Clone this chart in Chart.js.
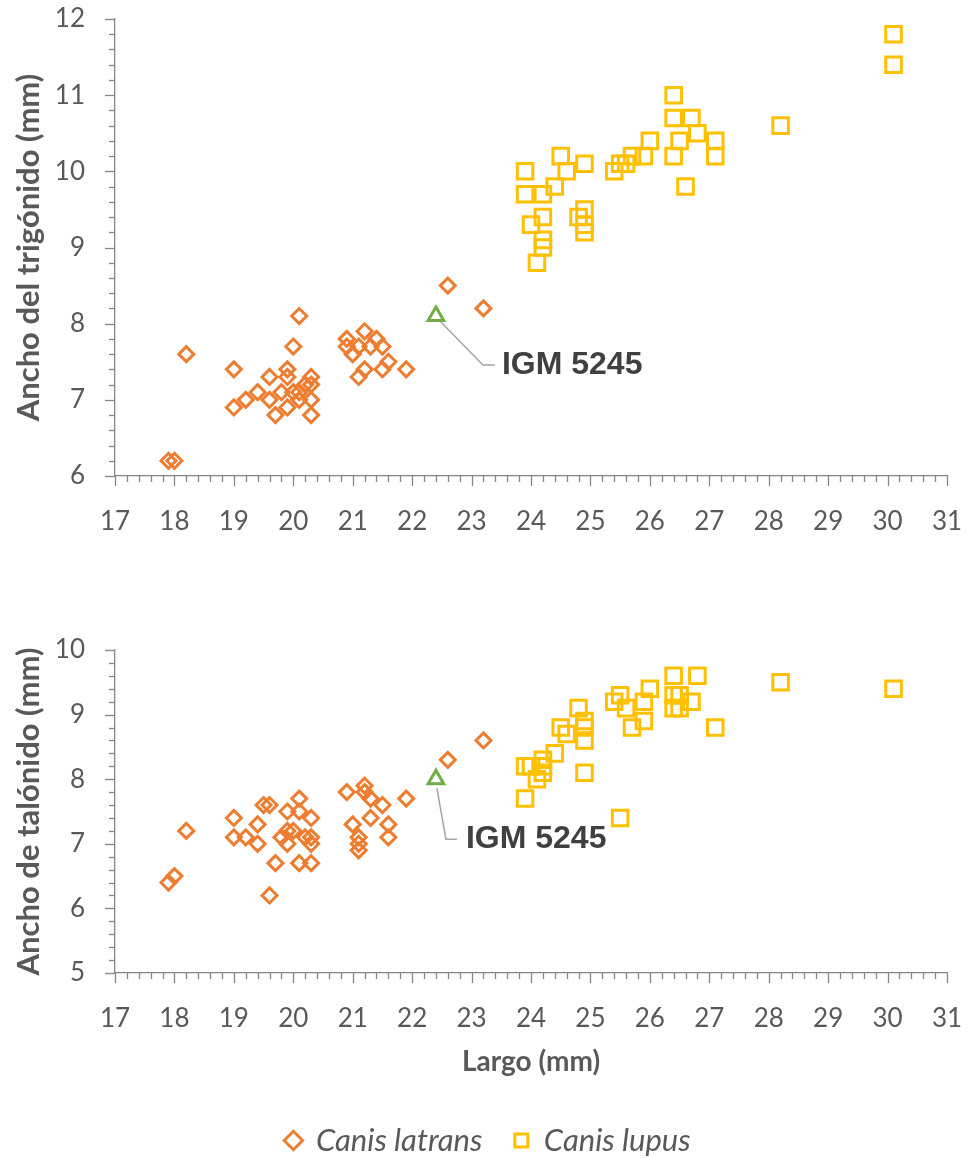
<!DOCTYPE html>
<html>
<head>
<meta charset="utf-8">
<script src="https://cdn.jsdelivr.net/npm/chart.js@4.4.1/dist/chart.umd.min.js"></script>
<style>
  html, body { margin: 0; background: #fff; overflow: hidden; }
  #wrap { position: relative; width: 968px; height: 1158px; overflow: hidden; }
  .box { position: absolute; left: 0; width: 968px; }
</style>
</head>
<body>
<div id="wrap">
  <div class="box" style="top:0;height:540px"><canvas id="chartTrig"></canvas></div>
  <div class="box" style="top:560px;height:606px"><canvas id="chartTal"></canvas></div>
</div>
<script>
// Largo (mm) vs ancho del trigónido / talónido (mm)
const trigLatransX = [17.9,18.0,18.2,19.0,19.0,19.2,19.4,19.6,19.6,19.7,19.8,19.9,19.9,19.9,20.0,20.1,20.0,20.1,20.1,20.2,20.3,20.3,20.3,20.3,20.9,20.9,21.0,21.2,21.1,21.4,21.3,21.5,21.6,21.5,21.2,21.1,21.9,22.6,23.2];
const trigLatransY = [6.2,6.2,7.6,7.4,6.9,7.0,7.1,7.3,7.0,6.8,7.1,7.4,7.3,6.9,7.7,8.1,7.1,7.1,7.0,7.2,7.3,7.2,7.0,6.8,7.8,7.7,7.6,7.9,7.7,7.8,7.7,7.7,7.5,7.4,7.4,7.3,7.4,8.5,8.2];
const trigLupusX = [23.9,23.9,24.2,24.4,24.5,24.6,24.9,24.2,24.0,24.2,24.2,24.1,24.8,24.9,24.9,24.9,25.4,25.5,25.6,25.7,26.0,25.9,26.4,26.4,26.7,26.8,26.5,27.1,27.1,26.4,26.6,28.2,30.1,30.1];
const trigLupusY = [10.0,9.7,9.7,9.8,10.2,10.0,10.1,9.4,9.3,9.1,9.0,8.8,9.4,9.5,9.3,9.2,10.0,10.1,10.1,10.2,10.4,10.2,11.0,10.7,10.7,10.5,10.4,10.4,10.2,10.2,9.8,10.6,11.8,11.4];

const talLatransX = [17.9,18.0,18.2,19.0,19.0,19.2,19.4,19.4,19.5,19.6,19.7,19.6,19.9,19.8,19.9,19.9,20.0,20.1,20.1,20.2,20.3,20.3,20.3,20.1,20.3,20.9,21.2,21.2,21.3,21.5,21.0,21.3,21.6,21.6,21.1,21.1,21.1,21.9,22.6,23.2];
const talLatransY = [6.4,6.5,7.2,7.4,7.1,7.1,7.3,7.0,7.6,7.6,6.7,6.2,7.5,7.1,7.2,7.0,7.2,7.7,7.5,7.1,7.4,7.1,7.0,6.7,6.7,7.8,7.9,7.8,7.7,7.6,7.3,7.4,7.3,7.1,7.1,7.0,6.9,7.7,8.3,8.6];
const talLupusX = [23.9,23.9,24.0,24.1,24.2,24.2,24.2,24.4,24.5,24.6,24.8,24.9,24.9,24.9,24.9,25.5,25.4,25.5,25.6,25.7,25.9,25.9,26.0,26.4,26.4,26.4,26.5,26.7,26.8,26.5,27.1,28.2,30.1];
const talLupusY = [7.7,8.2,8.2,8.0,8.2,8.3,8.1,8.4,8.8,8.7,9.1,8.9,8.8,8.6,8.1,7.4,9.2,9.3,9.1,8.8,9.2,8.9,9.4,9.6,9.3,9.1,9.3,9.2,9.6,9.1,8.8,9.5,9.4];

// IGM 5245
const igmLargo = [22.4];
const igmTrig = [8.1];
const igmTal = [8.0];

const xTicks = [17, 31];
const trigTicks = [6, 12];
const talTicks = [5, 10];

const ORANGE = '#ED7D31';
const GOLD = '#FFC000';
const GREEN = '#70AD47';
const TXT = '#595959';
const AXIS = '#868686';

Chart.defaults.font.family = 'Lato, sans-serif';
Chart.defaults.color = TXT;

function pts(xs, ys) {
    return xs.map((v, i) => ({ x: v, y: ys[i] }));
}

// Excel-like major/minor tick marks
const minorTicks = {
    id: 'minorTicks',
    afterDraw(chart) {
        const ctx = chart.ctx;
        const sx = chart.scales.x;
        const sy = chart.scales.y;
        ctx.save();
        ctx.strokeStyle = AXIS;
        ctx.lineWidth = 1.3;
        let n = Math.round((sx.max - sx.min) * 5);
        for (let i = 0; i <= n; i++) {
            const px = Math.round(sx.getPixelForValue(sx.min + i / 5)) + 0.5;
            const len = i % 5 === 0 ? 10 : 6;
            ctx.beginPath();
            ctx.moveTo(px, sx.top);
            ctx.lineTo(px, sx.top + len);
            ctx.stroke();
        }
        n = Math.round((sy.max - sy.min) * 5);
        for (let i = 0; i <= n; i++) {
            const py = Math.round(sy.getPixelForValue(sy.min + i / 5)) + 0.5;
            const len = i % 5 === 0 ? 10 : 6;
            ctx.beginPath();
            ctx.moveTo(sy.right, py);
            ctx.lineTo(sy.right - len, py);
            ctx.stroke();
        }
        ctx.restore();
    }
};

// leader line + label for the specimen point
const callout = {
    id: 'callout',
    afterDatasetsDraw(chart, args, opts) {
        const meta = chart.getDatasetMeta(opts.dataset);
        const p = meta.data[0];
        if (!p) return;
        const ctx = chart.ctx;
        ctx.save();
        ctx.strokeStyle = '#A5A5A5';
        ctx.lineWidth = 1.5;
        ctx.beginPath();
        ctx.moveTo(p.x + opts.start[0], p.y + opts.start[1]);
        ctx.lineTo(p.x + opts.elbow[0], p.y + opts.elbow[1]);
        ctx.lineTo(p.x + opts.end[0], p.y + opts.elbow[1]);
        ctx.stroke();
        ctx.fillStyle = '#404040';
        ctx.font = 'bold 32px "Liberation Sans", Arial, sans-serif';
        ctx.textBaseline = 'middle';
        ctx.fillText(opts.text, p.x + opts.textX, p.y + opts.elbow[1]);
        ctx.restore();
    }
};

// nudge the legend a little to the right, like the original
const legendShift = {
    id: 'legendShift',
    afterLayout(chart, args, opts) {
        if (chart.legend && opts.dx) {
            chart.legend.left += opts.dx;
            chart.legend.right += opts.dx;
        }
    }
};

function makeChart(id, latrans, lupus, igm, yRange, yTitle, withFooter, xHeight, padTop, calloutOpts) {
    return new Chart(document.getElementById(id), {
        type: 'scatter',
        data: {
            datasets: [
                {
                    label: 'Canis latrans',
                    data: latrans,
                    pointStyle: 'rectRot',
                    radius: 7.5,
                    hoverRadius: 7.5,
                    borderWidth: 3,
                    borderColor: ORANGE,
                    backgroundColor: 'rgba(0,0,0,0)'
                },
                {
                    label: 'Canis lupus',
                    data: lupus,
                    pointStyle: 'rect',
                    radius: 11,
                    hoverRadius: 11,
                    borderWidth: 3,
                    borderColor: GOLD,
                    backgroundColor: 'rgba(0,0,0,0)'
                },
                {
                    label: 'IGM 5245',
                    data: igm,
                    pointStyle: 'triangle',
                    radius: 9,
                    hoverRadius: 9,
                    borderWidth: 3,
                    borderColor: GREEN,
                    backgroundColor: 'rgba(0,0,0,0)'
                }
            ]
        },
        options: {
            responsive: true,
            maintainAspectRatio: false,
            animation: false,
            events: [],
            layout: { autoPadding: false, padding: { top: padTop, left: 0, right: 21, bottom: 0 } },
            scales: {
                x: {
                    type: 'linear',
                    min: xTicks[0],
                    max: xTicks[1],
                    ticks: { stepSize: 1, padding: 30, font: { size: 26 }, color: TXT },
                    grid: { drawOnChartArea: false, drawTicks: false },
                    border: { color: AXIS, width: 1.3 },
                    title: {
                        display: withFooter,
                        text: 'Largo (mm)',
                        font: { size: 28, weight: 'bold' },
                        color: TXT,
                        padding: { top: 0, bottom: 14 }
                    },
                    afterFit(s) {
                        s.height = xHeight;
                        s.paddingLeft = 0;
                        s.paddingRight = 0;
                    }
                },
                y: {
                    min: yRange[0],
                    max: yRange[1],
                    ticks: { stepSize: 1, padding: 30, font: { size: 26 }, color: TXT },
                    grid: { drawOnChartArea: false, drawTicks: false },
                    border: { color: AXIS, width: 1.3 },
                    title: {
                        display: true,
                        text: yTitle,
                        font: { size: 31, weight: 'bold' },
                        color: TXT,
                        padding: { top: 10, bottom: 0 }
                    },
                    afterFit(s) {
                        s.width = 115;
                        s.paddingTop = 0;
                        s.paddingBottom = 0;
                    }
                }
            },
            plugins: {
                legend: {
                    display: withFooter,
                    position: 'bottom',
                    labels: {
                        usePointStyle: true,
                        boxWidth: 14,
                        boxHeight: 13,
                        padding: 32,
                        color: TXT,
                        font: { size: 31, style: 'italic' },
                        filter: item => item.datasetIndex < 2
                    }
                },
                tooltip: { enabled: false },
                callout: calloutOpts,
                legendShift: { dx: 15 }
            }
        },
        plugins: [minorTicks, callout, legendShift]
    });
}

makeChart('chartTrig',
    pts(trigLatransX, trigLatransY), pts(trigLupusX, trigLupusY), pts(igmLargo, igmTrig),
    trigTicks, 'Ancho del trigónido (mm)', false, 64, 19,
    { dataset: 2, text: 'IGM 5245', start: [5, 6], elbow: [47, 49], end: [59, 0], textX: 66 });

makeChart('chartTal',
    pts(talLatransX, talLatransY), pts(talLupusX, talLupusY), pts(igmLargo, igmTal),
    talTicks, 'Ancho de talónido (mm)', true, 120, 90,
    { dataset: 2, text: 'IGM 5245', start: [1, 9], elbow: [10, 60], end: [21, 0], textX: 30 });
</script>
</body>
</html>
